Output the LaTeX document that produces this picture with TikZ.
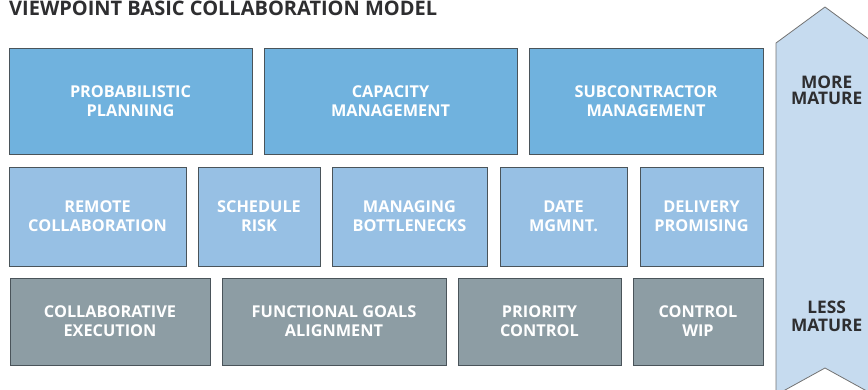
\documentclass[tikz,border=0pt]{standalone}
\usepackage{fontspec}
\setmainfont{Open Sans}
\usetikzlibrary{shadows}
\definecolor{rowA}{HTML}{70B2DE}
\definecolor{rowB}{HTML}{97C0E4}
\definecolor{rowC}{HTML}{8D9DA4}
\definecolor{edge}{HTML}{4A545A}
\definecolor{arrowfill}{HTML}{C6DBEF}
\definecolor{darktext}{HTML}{2E2E30}
\tikzset{
  boxbase/.style={draw=edge, line width=0.9pt, text=white, align=center,
    font=\fontsize{16.3}{19}\selectfont\bfseries, inner sep=0pt,
    drop shadow={shadow xshift=1.3pt, shadow yshift=-1.3pt, fill=black!25, opacity=1}},
  boxA/.style={boxbase, fill=rowA},
  boxB/.style={boxbase, fill=rowB},
  boxC/.style={boxbase, fill=rowC},
  sidelabel/.style={text=darktext, align=center, inner sep=0pt},
}
\begin{document}
\begin{tikzpicture}[x=1pt,y=-1pt]
\useasboundingbox (0,0) rectangle (868,390);
% title
\node[anchor=west, text=darktext, font=\fontsize{20}{22}\selectfont\bfseries, inner sep=0pt] (title) at (9,8) {VIEWPOINT BASIC COLLABORATION MODEL};
% maturity arrow
\draw[draw=black!55, line width=0.8pt, fill=arrowfill] (776,43) -- (825,7) -- (874,43) -- (874,395) -- (825,368) -- (776,395) -- cycle;
\node[sidelabel, font=\fontsize{17.3}{15.8}\selectfont\bfseries] (more) at (826.7,90.7) {MORE\\MATURE};
\node[sidelabel, font=\fontsize{17.3}{18.4}\selectfont\bfseries] (less) at (826.7,316.5) {LESS\\MATURE};
% row 1
\node[boxA, minimum width=243pt, minimum height=106pt] (p1) at (130.5,101) {PROBABILISTIC\\PLANNING};
\node[boxA, minimum width=253pt, minimum height=106pt] (p2) at (390.5,101) {CAPACITY\\MANAGEMENT};
\node[boxA, minimum width=234pt, minimum height=106pt] (p3) at (646,101) {SUBCONTRACTOR\\MANAGEMENT};
% row 2
\node[boxB, minimum width=177pt, minimum height=99pt] (r1) at (97.5,216.5) {REMOTE\\COLLABORATION};
\node[boxB, minimum width=122pt, minimum height=99pt] (r2) at (259,216.5) {SCHEDULE\\RISK};
\node[boxB, minimum width=155pt, minimum height=99pt] (r3) at (409.5,216.5) {MANAGING\\BOTTLENECKS};
\node[boxB, minimum width=127pt, minimum height=99pt] (r4) at (563.5,216.5) {DATE\\MGMNT.};
\node[boxB, minimum width=123pt, minimum height=99pt] (r5) at (701.5,216.5) {DELIVERY\\PROMISING};
% row 3
\node[boxC, minimum width=200pt, minimum height=87pt] (c1) at (110,321.5) {COLLABORATIVE\\EXECUTION};
\node[boxC, minimum width=224pt, minimum height=87pt] (c2) at (334,321.5) {FUNCTIONAL GOALS\\ALIGNMENT};
\node[boxC, minimum width=163pt, minimum height=87pt] (c3) at (539.5,321.5) {PRIORITY\\CONTROL};
\node[boxC, minimum width=130pt, minimum height=87pt] (c4) at (698,321.5) {CONTROL\\WIP};
\end{tikzpicture}
\end{document}
